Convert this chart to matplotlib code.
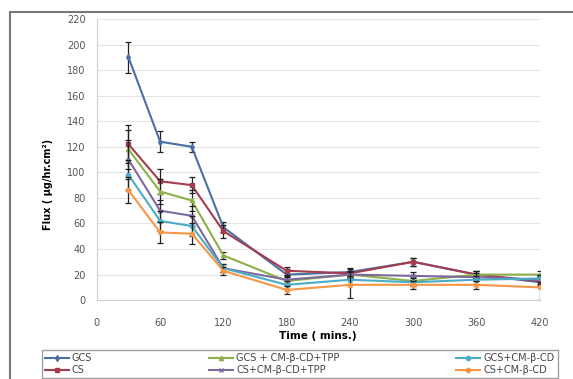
import matplotlib.pyplot as plt
from matplotlib.patches import Rectangle

time = [30, 60, 90, 120, 180, 240, 300, 360, 420]
labels = ['GCS', 'CS', 'GCS + CM-β-CD+TPP', 'CS+CM-β-CD+TPP', 'GCS+CM-β-CD', 'CS+CM-β-CD']
colors = ['#4A6FA5', '#A33D4E', '#8DB04A', '#7B6A9E', '#4BACC6', '#F79646']
markers = ['d', 's', '^', 'x', 'o', 'o']

gcs = [190, 124, 120, 57, 20, 22, 30, 20, 14]
cs = [122, 93, 90, 54, 23, 21, 30, 20, 15]
gcs_tpp = [118, 85, 78, 35, 15, 20, 15, 20, 20]
cs_tpp = [110, 70, 66, 25, 16, 20, 19, 18, 16]
gcs_cd = [98, 62, 58, 25, 12, 16, 14, 16, 17]
cs_cd = [86, 53, 52, 23, 8, 12, 12, 12, 10]

gcs_err = [12, 8, 4, 4, 4, 3, 3, 3, 3]
cs_err = [15, 10, 6, 5, 3, 3, 3, 3, 3]
gcs_tpp_err = [15, 10, 8, 3, 3, 3, 3, 3, 3]
cs_tpp_err = [15, 8, 8, 3, 3, 3, 3, 3, 3]
gcs_cd_err = [12, 8, 8, 3, 3, 3, 3, 3, 3]
cs_cd_err = [10, 8, 8, 3, 3, 10, 3, 3, 10]

series = [gcs, cs, gcs_tpp, cs_tpp, gcs_cd, cs_cd]
errors = [gcs_err, cs_err, gcs_tpp_err, cs_tpp_err, gcs_cd_err, cs_cd_err]

fig = plt.figure(figsize=(5.73, 3.79), dpi=100)
ax = fig.add_axes([0.169, 0.208, 0.773, 0.742])

for y, e, c, m, lab in zip(series, errors, colors, markers, labels):
    ax.errorbar(time, y, yerr=e, fmt='none', ecolor='#222222', elinewidth=0.9,
                capsize=2.5, capthick=0.9)
    ax.plot(time, y, color=c, marker=m, markersize=3, lw=1.5, label=lab)

ax.set_xlim(0, 420)
ax.set_ylim(0, 220)
ax.set_xticks(range(0, 421, 60))
ax.set_yticks(range(0, 221, 20))
ax.grid(axis='y', color='#E4E4E4', lw=0.8)
ax.set_axisbelow(True)
for s in ['top', 'right']:
    ax.spines[s].set_visible(False)
for s in ['left', 'bottom']:
    ax.spines[s].set_color('#D0D0D0')
ax.tick_params(axis='y', length=0, labelsize=7, colors='#555555', pad=8)
ax.tick_params(axis='x', length=0, labelsize=7, colors='#555555', pad=13)
ax.set_xlabel('Time ( mins.)', fontsize=7.5, fontweight='bold', labelpad=2)
ax.set_ylabel('Flux ( μg/hr.cm²)', fontsize=7, fontweight='bold')
ax.yaxis.set_label_coords(-0.10, 0.41)

leg = fig.legend(loc='lower left', bbox_to_anchor=(0.073, 0.003, 0.9, 0.087),
                 mode='expand', ncol=3, fontsize=7, frameon=True, fancybox=False,
                 edgecolor='#888888', handlelength=2.5, borderaxespad=0,
                 labelspacing=0.2, handletextpad=0.3, borderpad=0.3)
for t in leg.get_texts():
    t.set_color('#444444')

fig.patches.append(Rectangle((0.017, -0.01), 1.0, 0.978, transform=fig.transFigure,
                             fill=False, edgecolor='#777777', lw=1.5))

fig.savefig('out.png', dpi=100)
